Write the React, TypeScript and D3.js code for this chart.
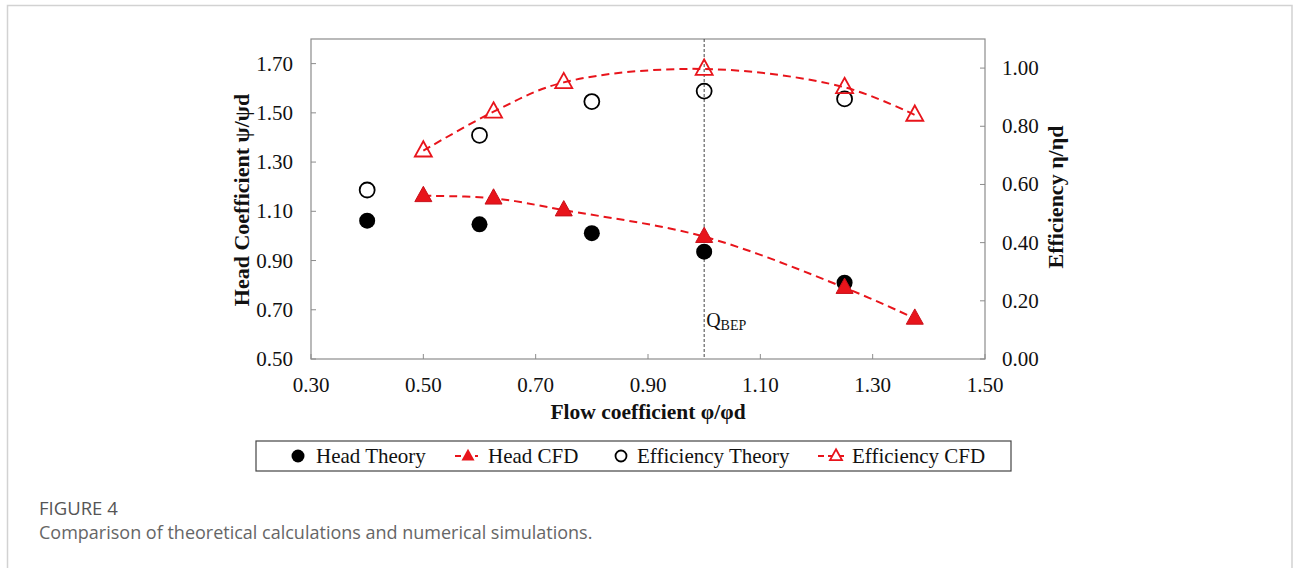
import React from "react";
import * as d3 from "d3";

const headTheoryX = [0.4, 0.6, 0.8, 1.0, 1.25];
const headTheoryY = [1.062, 1.047, 1.011, 0.936, 0.81];
const headCfdX = [0.5, 0.625, 0.75, 1.0, 1.25, 1.375];
const headCfdY = [1.163, 1.153, 1.105, 0.997, 0.79, 0.665];
const effTheoryX = [0.4, 0.6, 0.8, 1.0, 1.25];
const effTheoryY = [0.581, 0.769, 0.885, 0.921, 0.894];
const effCfdX = [0.5, 0.625, 0.75, 1.0, 1.25, 1.375];
const effCfdY = [0.716, 0.85, 0.951, 0.997, 0.934, 0.839];
const xTicks = [0.3, 0.5, 0.7, 0.9, 1.1, 1.3, 1.5];
const leftTicks = [0.5, 0.7, 0.9, 1.1, 1.3, 1.5, 1.7];
const rightTicks = [0, 0.2, 0.4, 0.6, 0.8, 1.0];
const bepX = 1.0;

const W = 1293, H = 568;
const L = 311, R = 985, T = 39, B = 359;
const serif = "'Liberation Serif', 'Times New Roman', serif";
const RED = "#e8141b";
const AX = "#8c8c8c";

function tri(cx: number, cy: number, s: number) {
  const h = s * 0.9;
  return `M${cx},${cy - h * 0.62}L${cx + s / 2},${cy + h * 0.38}L${cx - s / 2},${cy + h * 0.38}Z`;
}

export default function App() {
  const x = d3.scaleLinear().domain([0.3, 1.5]).range([L, R]);
  const yL = d3.scaleLinear().domain([0.5, 1.8]).range([B, T]);
  const yR = d3.scaleLinear().domain([0, 1.1]).range([B, T]);
  const line = (xs: number[], ys: number[], y: d3.ScaleLinear<number, number>) =>
    d3.line<number>().x((_, i) => x(xs[i])).y((_, i) => y(ys[i])).curve(d3.curveCatmullRom.alpha(0.5))(xs as any) || "";
  const f = (v: number) => v.toFixed(2);

  return (
    <svg width={W} height={H} style={{ position: "absolute", left: 0, top: 0, background: "#fff" }}>
      {/* outer frame */}
      <path d={`M7.5,${H}V5.5H1292V${H}`} fill="none" stroke="#d2d2d2" strokeWidth={1.5} />

      {/* plot frame */}
      <rect x={L} y={T} width={R - L} height={B - T} fill="none" stroke={AX} strokeWidth={1.2} />

      {/* ticks */}
      {xTicks.map((t) => (
        <g key={"x" + t}>
          <line x1={x(t)} x2={x(t)} y1={B} y2={B - 5} stroke={AX} />
          <text x={x(t)} y={B + 33} textAnchor="middle" fontFamily={serif} fontSize={21} fill="#111">{f(t)}</text>
        </g>
      ))}
      {leftTicks.map((t) => (
        <g key={"l" + t}>
          <line x1={L} x2={L + 5} y1={yL(t)} y2={yL(t)} stroke={AX} />
          <text x={293} y={yL(t) + 7} textAnchor="end" fontFamily={serif} fontSize={21} fill="#111">{f(t)}</text>
        </g>
      ))}
      {rightTicks.map((t) => (
        <g key={"r" + t}>
          <line x1={R} x2={R - 5} y1={yR(t)} y2={yR(t)} stroke={AX} />
          <text x={1002} y={yR(t) + 7} textAnchor="start" fontFamily={serif} fontSize={21} fill="#111">{f(t)}</text>
        </g>
      ))}

      {/* axis titles */}
      <text transform={`translate(249,${(T + B) / 2 + 1}) rotate(-90)`} textAnchor="middle" fontFamily={serif} fontWeight="bold" fontSize={22} fill="#111">Head Coefficient ψ/ψd</text>
      <text transform={`translate(1063,${(T + B) / 2 - 2}) rotate(-90)`} textAnchor="middle" fontFamily={serif} fontWeight="bold" fontSize={22} fill="#111">Efficiency η/ηd</text>
      <text x={(L + R) / 2} y={419} textAnchor="middle" fontFamily={serif} fontWeight="bold" fontSize={21.5} fill="#111">Flow coefficient φ/φd</text>

      {/* BEP line */}
      <line x1={x(bepX)} x2={x(bepX)} y1={T} y2={B} stroke="#444" strokeWidth={1} strokeDasharray="3,2" />
      <text x={x(bepX) + 2} y={327} fontFamily={serif} fontSize={20} fill="#111">Q<tspan fontSize={14} dy={3}>BEP</tspan></text>

      {/* curves */}
      <path d={line(headCfdX, headCfdY, yL)} fill="none" stroke={RED} strokeWidth={2} strokeDasharray="8,5" />
      <path d={line(effCfdX, effCfdY, yR)} fill="none" stroke={RED} strokeWidth={2} strokeDasharray="8,5" />

      {/* markers */}
      {headTheoryX.map((v, i) => (
        <circle key={"ht" + i} cx={x(v)} cy={yL(headTheoryY[i])} r={8} fill="#000" />
      ))}
      {headCfdX.map((v, i) => (
        <path key={"hc" + i} d={tri(x(v), yL(headCfdY[i]), 17)} fill={RED} stroke="#c8101a" strokeWidth={1} />
      ))}
      {effTheoryX.map((v, i) => (
        <circle key={"et" + i} cx={x(v)} cy={yR(effTheoryY[i])} r={7.5} fill="none" stroke="#000" strokeWidth={1.8} />
      ))}
      {effCfdX.map((v, i) => (
        <path key={"ec" + i} d={tri(x(v), yR(effCfdY[i]), 17)} fill="none" stroke={RED} strokeWidth={1.8} />
      ))}

      {/* legend */}
      <rect x={256} y={441} width={755} height={30} fill="#fff" stroke="#444" strokeWidth={1.2} />
      <circle cx={298} cy={456} r={6.5} fill="#000" />
      <text x={316} y={463} fontFamily={serif} fontSize={21} fill="#111">Head Theory</text>
      <line x1={455} x2={478} y1={456} y2={456} stroke={RED} strokeWidth={2} strokeDasharray="6,4" />
      <path d={tri(468, 456, 13)} fill={RED} />
      <text x={488} y={463} fontFamily={serif} fontSize={21} fill="#111">Head CFD</text>
      <circle cx={621} cy={456} r={5.5} fill="none" stroke="#000" strokeWidth={1.8} />
      <text x={637} y={463} fontFamily={serif} fontSize={21} fill="#111">Efficiency Theory</text>
      <line x1={818} x2={848} y1={456} y2={456} stroke={RED} strokeWidth={2} strokeDasharray="6,4" />
      <path d={tri(836, 456, 12)} fill="#fff" stroke={RED} strokeWidth={1.8} />
      <text x={852} y={463} fontFamily={serif} fontSize={21} fill="#111">Efficiency CFD</text>

      {/* caption */}
      <text x={39} y={515} fontFamily="'Open Sans', sans-serif" fontSize={18.5} fontWeight={500} fill="#555">FIGURE 4</text>
      <text x={39} y={539} fontFamily="'Open Sans', sans-serif" fontSize={18} fill="#666">Comparison of theoretical calculations and numerical simulations.</text>
    </svg>
  );
}
